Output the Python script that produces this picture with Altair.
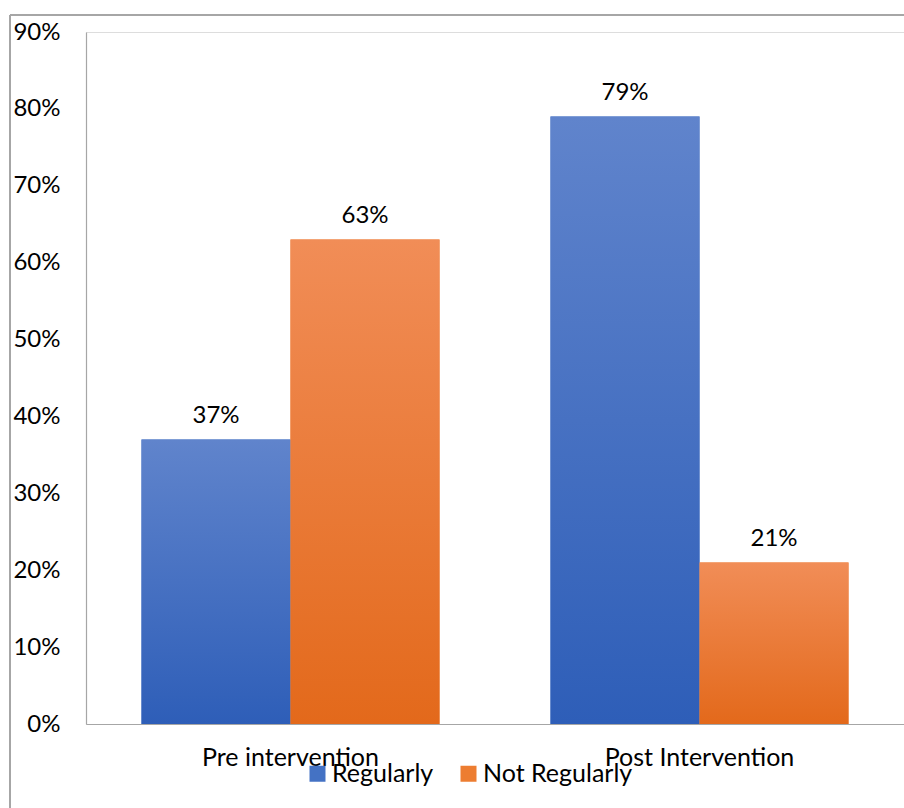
import altair as alt
import pandas as pd

groups = ["Pre intervention", "Post Intervention"]
series = ["Regularly", "Not Regularly"]
regularly = [0.37, 0.79]
not_regularly = [0.63, 0.21]
y_ticks = [0, 0.1, 0.2, 0.3, 0.4, 0.5, 0.6, 0.7, 0.8, 0.9]

rows = []
for g, r, n in zip(groups, regularly, not_regularly):
    rows.append({"group": g, "series": series[0], "value": r})
    rows.append({"group": g, "series": series[1], "value": n})
df = pd.DataFrame(rows)

FONT = "Lato"
FS = 24
FSX = 25
W, H = 818, 692

x_enc = alt.X("group:N", sort=groups,
              scale=alt.Scale(paddingInner=0, paddingOuter=0),
              axis=alt.Axis(title=None, labelAngle=0, ticks=False, domainColor="#A6A6A6",
                            domainWidth=1.2, labelFontSize=FSX, labelFont=FONT,
                            labelColor="#000000", labelPadding=21, labelLimit=0))
xo_enc = alt.XOffset("series:N", sort=series,
                     scale=alt.Scale(paddingInner=0, paddingOuter=0.3725))
y_enc = alt.Y("value:Q", scale=alt.Scale(domain=[0, 0.9]),
              axis=alt.Axis(title=None, format=".0%", values=y_ticks, grid=False, ticks=False,
                            domainColor="#A6A6A6", domainWidth=1.2, labelFontSize=FS,
                            labelFont=FONT, labelColor="#000000", labelPadding=26))

base = alt.Chart(df)

legend_bars = base.mark_bar().encode(
    x=x_enc, xOffset=xo_enc, y=y_enc,
    color=alt.Color("series:N", sort=series,
                    scale=alt.Scale(domain=series, range=["#4472C4", "#ED7D31"]),
                    legend=alt.Legend(title=None, orient="none", direction="horizontal",
                                      legendX=219, legendY=729, symbolType="square",
                                      symbolSize=256, symbolStrokeWidth=0,
                                      labelFontSize=FSX, labelFont=FONT, labelColor="#000000",
                                      labelOffset=2, columnPadding=22, padding=0,
                                      labelLimit=0)),
)

def grad(top, bottom):
    return alt.Gradient(gradient="linear",
                        stops=[alt.GradientStop(color=top, offset=0),
                               alt.GradientStop(color=bottom, offset=1)],
                        x1=0, x2=0, y1=0, y2=1)

blue = base.transform_filter(alt.datum.series == "Regularly").mark_bar(
    fill=grad("#6084CC", "#2E5EB8")).encode(x=x_enc, xOffset=xo_enc, y=y_enc)
orange = base.transform_filter(alt.datum.series == "Not Regularly").mark_bar(
    fill=grad("#F18D57", "#E3691B")).encode(x=x_enc, xOffset=xo_enc, y=y_enc)

labels = base.mark_text(baseline="alphabetic", dy=-17, fontSize=FS, font=FONT,
                        color="#000000").encode(
    x=x_enc, xOffset=xo_enc, y=y_enc, text=alt.Text("value:Q", format=".0%"))

frame_top = alt.Chart(pd.DataFrame({"a": [0]})).mark_rule(color="#A6A6A6", strokeWidth=2).encode(
    x=alt.value(-76), x2=alt.value(W), y=alt.value(-17))
frame_left = alt.Chart(pd.DataFrame({"a": [0]})).mark_rule(color="#A6A6A6", strokeWidth=2).encode(
    x=alt.value(-76), y=alt.value(-17), y2=alt.value(H + 84))

chart = alt.layer(legend_bars, blue, orange, labels, frame_top, frame_left).properties(
    width=W, height=H,
    autosize=alt.AutoSizeParams(type="none"),
    padding={"left": 86, "top": 32, "right": 0, "bottom": 84},
).configure_view(stroke=None).configure(background="white")

chart.save("out.html", embed_options={"renderer": "svg", "actions": False})
